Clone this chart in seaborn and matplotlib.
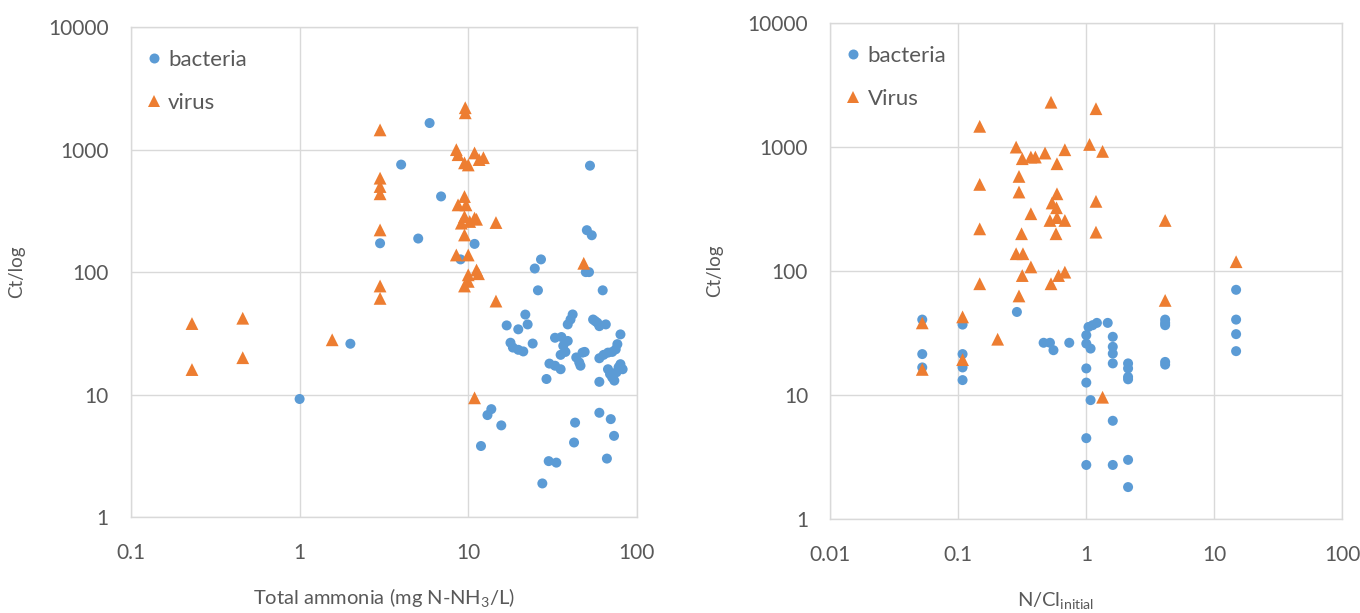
import pandas as pd
import matplotlib
matplotlib.use("Agg")
import matplotlib.pyplot as plt
import seaborn as sns
from matplotlib.lines import Line2D
from matplotlib.ticker import LogLocator, FuncFormatter, NullLocator

# --- data ---
# left panel: Ct vs total ammonia
amm_bact_x = [5.9, 4.0, 6.9, 3.0, 5.05, 10.9, 9.0, 52.7, 50.5, 54, 49.8, 52, 27, 24.8, 25.9, 62.7,
              2.0, 1.0, 13.7, 13.0, 15.7, 11.9, 27.5, 30, 33.3, 42.4, 43, 59.9, 70, 73.2, 66.4,
              16.9, 19.8, 21.8, 22.5, 17.8, 18.4, 19.8, 21.2, 24.1, 29.1, 30.3, 32.7, 35.3, 32.7,
              35.7, 38.9, 36.6, 35.3, 37.7, 38.9, 40.4, 41.6, 43.7, 45.5, 46.3, 47.6, 49, 55, 56.6,
              58.3, 59.9, 65.4, 79.9, 59.9, 63.5, 67.4, 71.4, 74.9, 76.6, 59.9, 67.4, 69.3, 71.4,
              73.5, 75.7, 77.9, 79.9, 82.3]
amm_bact_y = [1650, 755, 415, 172, 188, 170, 127, 740, 220, 200, 100, 100, 127, 107, 71, 71,
              26, 9.2, 7.6, 6.8, 5.6, 3.8, 1.88, 2.86, 2.78, 4.06, 5.9, 7.1, 6.3, 4.6, 3.0,
              36.7, 34.1, 45, 37.4, 26.5, 24.2, 23.2, 22.5, 26.1, 13.4, 17.9, 17.2, 16.1, 29.1,
              29.5, 27.4, 25, 21.1, 22.3, 37.4, 41, 45.1, 20.1, 18.3, 17.2, 22, 22.3, 41, 39.8,
              38.6, 36.2, 37.4, 31, 19.8, 21.1, 22, 22.3, 23.4, 25.8, 12.7, 16.1, 14.7, 13.8,
              13.0, 15.2, 16.7, 17.7, 16.1]
amm_vir_x = [9.6, 9.6, 3.0, 8.5, 8.7, 9.5, 10.0, 10.9, 11.6, 12.3, 3.0, 3.0, 3.0, 9.5, 8.7, 9.7,
             9.5, 10.9, 10.2, 9.1, 11.2, 14.6, 3.0, 9.5, 8.5, 10.0, 10.0, 11.2, 10.0, 9.5, 11.5,
             3.0, 3.0, 14.6, 0.23, 0.46, 0.23, 0.46, 1.56, 10.9, 48.4]
amm_vir_y = [2200, 2000, 1450, 1000, 910, 780, 750, 940, 830, 860, 585, 500, 436, 414, 354, 354,
             284, 276, 259, 251, 270, 254, 221, 201, 138, 138, 95, 104, 84, 77, 97,
             77, 61, 58, 38, 42, 16, 20, 28, 9.4, 118]

# right panel: Ct vs N/Cl initial
ncl_bact_x = [14.8, 0.287, 0.0523, 0.0523, 0.0523, 0.108, 0.108, 0.108, 0.108, 0.464, 0.52, 0.554,
              0.736, 1.0, 1.04, 1.12, 1.21, 1.47, 1.0, 1.08, 1.0, 1.0, 1.08, 1.0, 1.0, 1.61, 1.61,
              1.61, 1.61, 1.61, 1.61, 2.12, 2.12, 2.12, 2.12, 2.12, 2.12, 4.13, 4.13, 4.13, 4.13,
              4.13, 14.8, 14.8, 14.8]
ncl_bact_y = [70.6, 46.8, 40.6, 21.4, 16.7, 37, 21.4, 16.7, 13.2, 26.4, 26.4, 23,
              26.4, 30.4, 35.4, 36.6, 38.2, 38.2, 26, 23.7, 16.4, 12.6, 9.1, 4.49, 2.73, 29.5, 24.5,
              21.6, 18.0, 6.2, 2.73, 18.0, 16.4, 14.0, 13.4, 3.0, 1.81, 40.6, 38.2, 36.6, 18.5,
              17.6, 40.6, 31.0, 22.6]
ncl_vir_x = [0.53, 1.19, 0.147, 0.283, 0.316, 0.369, 0.40, 0.476, 0.59, 0.68, 1.06, 1.34, 0.147,
             0.298, 0.298, 0.59, 0.54, 0.585, 1.19, 0.369, 0.52, 0.59, 0.68, 0.58, 4.13, 0.147,
             0.312, 1.19, 0.283, 0.32, 0.369, 0.316, 0.607, 0.68, 0.53, 0.147, 14.8, 0.298, 4.13,
             0.0523, 0.0523, 0.108, 0.108, 0.203, 1.34]
ncl_vir_y = [2300, 2040, 1470, 1000, 806, 831, 831, 895, 734, 952, 1050, 923, 500,
             580, 434, 420, 354, 324, 365, 290, 256, 270, 256, 200, 256, 219,
             200, 206, 138, 138, 108, 92, 92, 98, 79, 79, 119, 63, 58,
             38.2, 16.1, 42.7, 19.3, 28.2, 9.6]

df_amm = pd.DataFrame({
    "x": amm_bact_x + amm_vir_x,
    "y": amm_bact_y + amm_vir_y,
    "type": ["bacteria"] * len(amm_bact_x) + ["virus"] * len(amm_vir_x),
})
df_ncl = pd.DataFrame({
    "x": ncl_bact_x + ncl_vir_x,
    "y": ncl_bact_y + ncl_vir_y,
    "type": ["bacteria"] * len(ncl_bact_x) + ["virus"] * len(ncl_vir_x),
})

# --- style ---
sns.set_theme(style="white")
plt.rcParams['font.family'] = ['Lato', 'DejaVu Sans']
plt.rcParams['mathtext.fontset'] = 'custom'
plt.rcParams['mathtext.rm'] = 'Lato'

BLUE = "#5B9BD5"
ORANGE = "#ED7D31"
GRID = "#D9D9D9"
TXT = "#595959"
palette = {"bacteria": BLUE, "virus": ORANGE}
markers = {"bacteria": "o", "virus": "^"}
sizes = {"bacteria": 52, "virus": 85}

fig = plt.figure(figsize=(13.6, 6.13), dpi=100)
ax1 = fig.add_axes([0.0963, 0.1566, 0.372, 0.799])
ax2 = fig.add_axes([0.6105, 0.1533, 0.3765, 0.809])


def draw(ax, df, xlim, xlabel, virus_name):
    sns.scatterplot(data=df, x="x", y="y", hue="type", style="type", size="type",
                    palette=palette, markers=markers, sizes=sizes,
                    linewidth=0, alpha=1, legend=False, ax=ax)
    ax.set_xscale("log")
    ax.set_yscale("log")
    ax.set_xlim(*xlim)
    ax.set_ylim(1, 10000)
    for a in (ax.xaxis, ax.yaxis):
        a.set_major_locator(LogLocator(base=10))
        a.set_minor_locator(NullLocator())
        a.set_major_formatter(FuncFormatter(lambda v, p: f"{v:g}"))
    ax.grid(True, color=GRID, lw=1)
    ax.set_axisbelow(True)
    for sp in ax.spines.values():
        sp.set_color(GRID)
        sp.set_linewidth(1)
    ax.tick_params(axis="both", length=0, labelsize=15, colors=TXT)
    ax.tick_params(axis="x", pad=19)
    ax.tick_params(axis="y", pad=16)
    ax.set_xlabel(xlabel, fontsize=14.5, color=TXT)
    ax.set_ylabel("Ct/log", fontsize=13.5, color=TXT)
    ax.yaxis.set_label_coords(-0.21, 0.5)
    ax.xaxis.set_label_coords(0.5, -0.143)
    handles = [
        Line2D([], [], ls="", marker="o", color=BLUE, markersize=7.2, markeredgewidth=0),
        Line2D([], [], ls="", marker="^", color=ORANGE, markersize=9.2, markeredgewidth=0),
    ]
    leg = ax.legend(handles, ["bacteria", virus_name], loc="upper left",
                    bbox_to_anchor=(-0.012, 0.995), frameon=False, fontsize=16,
                    handlelength=0.8, handletextpad=0.25, labelspacing=1.05)
    for t in leg.get_texts():
        t.set_color(TXT)


draw(ax1, df_amm, (0.1, 100), r"Total ammonia (mg N-NH$_\mathregular{3}$/L)", "virus")
draw(ax2, df_ncl, (0.01, 100), r"N/Cl$_\mathregular{initial}$", "Virus")
ax2.xaxis.set_label_coords(0.44, -0.145)

fig.savefig("out.png", dpi=100)
